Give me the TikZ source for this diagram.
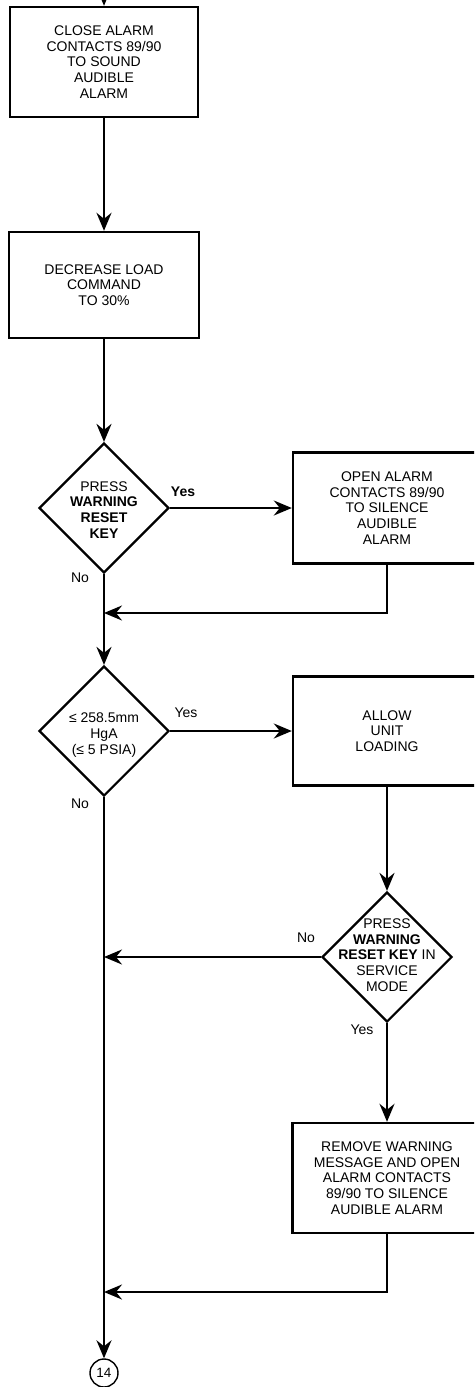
\documentclass[tikz,border=0pt]{standalone}
\usepackage{fontspec}
\setmainfont{Liberation Sans}
\usetikzlibrary{shapes.geometric,arrows.meta}
\newcommand{\lblfont}{\fontsize{14}{15.8}\selectfont}
\tikzset{
  box/.style={draw, line width=2.4pt, align=center, inner sep=0pt, font=\lblfont},
  dia/.style={draw, diamond, line width=2.2pt, inner sep=0pt, minimum width=130pt, minimum height=130pt},
  dtext/.style={align=center, inner sep=0pt, font=\lblfont},
  lab/.style={inner sep=0pt, font=\lblfont},
  arr/.style={line width=2.2pt, -{Stealth[length=18pt,width=15pt,inset=6pt]}},
}
\begin{document}
\begin{tikzpicture}[x=1pt,y=-1pt]
\useasboundingbox (0,0) rectangle (474,1387);
\clip (0,0) rectangle (474,1387);
\fill[white] (0,0) rectangle (474,1387);

% left column
\node[box, minimum width=188pt, minimum height=110pt] (b1) at (104,62)
  {CLOSE ALARM\\CONTACTS 89/90\\TO SOUND\\AUDIBLE\\ALARM};
\node[box, minimum width=190pt, minimum height=106pt] (b2) at (104,285)
  {DECREASE LOAD\\COMMAND\\TO 30\%};
\node[dia] (d1) at (104,508) {};
\node[dtext] (d1t) at (104,510) {PRESS\\\textbf{WARNING}\\\textbf{RESET}\\\textbf{KEY}};
\node[dia] (d2) at (104,731) {};
\node[dtext] (d2t) at (104,735) {≤ 258.5mm\\HgA\\(≤ 5 PSIA)};
\node[draw, circle, line width=1.4pt, minimum size=28pt, inner sep=0pt, font=\fontsize{13.5}{15}\selectfont] (c14) at (104,1373) {14};

% right column
\node[box, minimum width=188pt, minimum height=111pt] (ob) at (387,508)
  {OPEN ALARM\\CONTACTS 89/90\\TO SILENCE\\AUDIBLE\\ALARM};
\node[box, minimum width=188pt, minimum height=109pt] (al) at (387,731)
  {ALLOW\\UNIT\\LOADING};
\node[dia] (d3) at (387,957) {};
\node[dtext] (d3t) at (387,955) {PRESS\\\textbf{WARNING}\\\textbf{RESET KEY} IN\\SERVICE\\MODE};
\node[box, minimum width=189pt, minimum height=110pt] (rm) at (387,1178)
  {REMOVE WARNING\\MESSAGE AND OPEN\\ALARM CONTACTS\\89/90 TO SILENCE\\AUDIBLE ALARM};

% labels
\node[lab, font=\lblfont\bfseries] (y1) at (183,492) {Yes};
\node[lab] (n1) at (80,578) {No};
\node[lab] (y2) at (186,713) {Yes};
\node[lab] (n2) at (80,804) {No};
\node[lab] (n3) at (306,938) {No};
\node[lab] (y3) at (362,1030) {Yes};

% junctions
\coordinate (top) at (104,-20);
\coordinate (j1) at (104,613);
\coordinate (j2) at (104,957);
\coordinate (j3) at (104,1292);

% connectors
\draw[arr] (top) -- (b1.north);
\draw[arr] (b1.south) -- (b2.north);
\draw[arr] (b2.south) -- (d1.north);
\draw[arr] (d1.east) -- (ob.west);
\draw[arr] (ob.south) |- (j1);
\draw[arr] (d1.south) -- (d2.north);
\draw[arr] (d2.east) -- (al.west);
\draw[arr] (al.south) -- (d3.north);
\draw[arr] (d3.west) -- (j2);
\draw[arr] (d3.south) -- (rm.north);
\draw[arr] (rm.south) |- (j3);
\draw[arr] (d2.south) -- (c14.north);
\end{tikzpicture}
\end{document}
